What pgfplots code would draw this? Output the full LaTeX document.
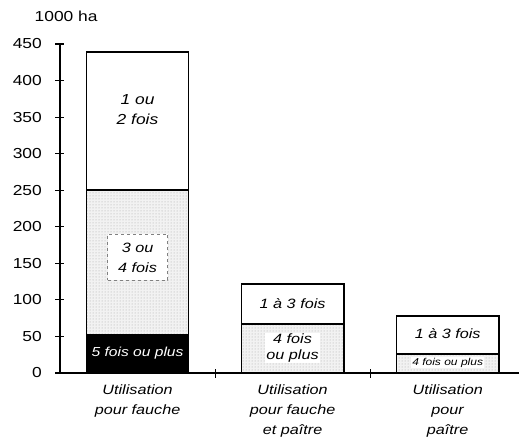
\documentclass[border=0pt]{standalone}
\usepackage{fontspec}
\setmainfont[FakeStretch=1.2]{Liberation Sans}
\usepackage{pgfplots}
\pgfplotsset{compat=1.18}
\usetikzlibrary{patterns}
\begin{document}
\fontsize{13.5}{20}\selectfont
\begin{tikzpicture}
\path[use as bounding box] (-60pt,-66pt) rectangle (459pt,373pt);
\begin{axis}[
  scale only axis,
  width=459pt, height=329pt,
  xmin=-0.5, xmax=2.46,
  ymin=0, ymax=450,
  axis x line*=bottom,
  axis y line*=left,
  ybar stacked,
  bar width=0.66,
  ytick={0,50,...,450},
  xtick={0.5,1.5},
  xticklabels={},
  tick align=center,
  major tick length=9pt,
  tick style={black, line width=1.1pt},
  axis line style={line width=1.4pt},
  /pgf/number format/assume math mode=true,
  yticklabel style={font=\fontsize{14.5}{16}\selectfont, xshift=-9pt},
  clip=false,
]
\addplot[draw=black, line width=1.5pt, fill=black] coordinates {(0,53) (1,0) (2,0)};
\addplot[draw=black, line width=1.5pt, fill=gray!10, postaction={pattern=dots, pattern color=gray!70}] coordinates {(0,197) (1,67) (2,26)};
\addplot[draw=black, line width=1.5pt, fill=white] coordinates {(0,189) (1,55) (2,52)};

\coordinate (l1) at (axis cs:0,360);
\coordinate (l2) at (axis cs:0,158);
\coordinate (l3) at (axis cs:0,27);
\coordinate (l4) at (axis cs:1,95);
\coordinate (l5) at (axis cs:1,34);
\coordinate (l6) at (axis cs:2,54);
\coordinate (l7) at (axis cs:2,14);

\node[font=\itshape, align=center, anchor=north] at ([yshift=-7pt]axis cs:0,0) {Utilisation\\pour fauche};
\node[font=\itshape, align=center, anchor=north] at ([yshift=-7pt]axis cs:1,0) {Utilisation\\pour fauche\\et paître};
\node[font=\itshape, align=center, anchor=north] at ([yshift=-7pt]axis cs:2,0) {Utilisation\\pour\\paître};
\node[anchor=base west, font=\fontsize{14.5}{16}\selectfont] at ([xshift=-30pt,yshift=22pt]rel axis cs:0,1) {1000 ha};
\end{axis}
\node[font=\itshape\fontsize{14.5}{20}\selectfont, align=center] at (l1) {1 ou\\2 fois};
\node[align=center, fill=white, draw=gray, dashed, minimum width=60pt, minimum height=46pt, inner sep=2pt] at (l2) {\itshape 3 ou\\\itshape 4 fois};
\node[font=\itshape\fontsize{13}{15}\selectfont, text=white] at (l3) {5 fois ou plus};
\node[font=\itshape] at (l4) {1 à 3 fois};
\node[align=center, fill=white, inner sep=1pt] at (l5) {\itshape 4 fois\\[-4pt]\itshape ou plus};
\node[font=\itshape] at (l6) {1 à 3 fois};
\node[font=\itshape\fontsize{10}{11}\selectfont, fill=white, inner sep=1pt] at (l7) {4 fois ou plus};
\end{tikzpicture}
\end{document}
